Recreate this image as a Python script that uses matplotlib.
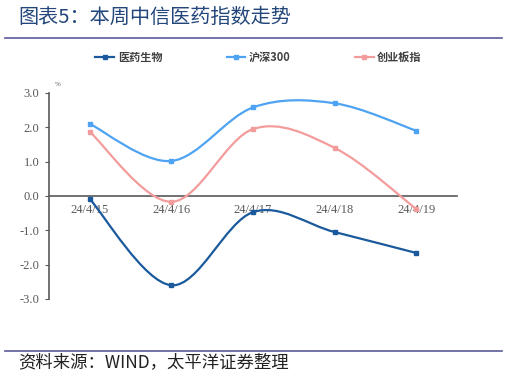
import numpy as np
import matplotlib
matplotlib.use('Agg')
import matplotlib.pyplot as plt
from matplotlib.path import Path
from matplotlib.patches import PathPatch
from matplotlib.lines import Line2D

plt.rcParams['font.family'] = ['Noto Sans CJK SC', 'DejaVu Sans']

dates = ['24/4/15', '24/4/16', '24/4/17', '24/4/18', '24/4/19']
yiyao = [-0.09, -2.60, -0.47, -1.05, -1.66]
hs300 = [2.10, 1.02, 2.58, 2.70, 1.90]
cyb = [1.87, -0.17, 1.95, 1.40, -0.38]

series = [('医药生物', yiyao, '#1a5a9c'),
          ('沪深300', hs300, '#4ea3f2'),
          ('创业板指', cyb, '#f39c9c')]


def smooth_path(x, y, t=1/6):
    # excel-like smoothed line as bezier segments
    x = np.asarray(x, float); y = np.asarray(y, float)
    verts = [(x[0], y[0])]
    codes = [Path.MOVETO]
    n = len(x)
    for i in range(n - 1):
        i0 = max(i - 1, 0); i3 = min(i + 2, n - 1)
        c1 = (x[i] + (x[i + 1] - x[i0]) * t, y[i] + (y[i + 1] - y[i0]) * t)
        c2 = (x[i + 1] - (x[i3] - x[i]) * t, y[i + 1] - (y[i3] - y[i]) * t)
        verts += [c1, c2, (x[i + 1], y[i + 1])]
        codes += [Path.CURVE4] * 3
    return Path(verts, codes)


fig = plt.figure(figsize=(5.07, 3.78), dpi=100)
ax = fig.add_axes([0.0966, 0.209, 0.805, 0.545])
ax.spines['bottom'].set_position(('data', 0))

xs = np.arange(len(dates))
for name, vals, col in series:
    ax.add_patch(PathPatch(smooth_path(xs, vals), facecolor='none', edgecolor=col, lw=1.6, zorder=3))
    ax.plot(xs, vals, ls='none', marker='s', ms=3.5, color=col, zorder=4)

ax.set_xlim(-0.5, 4.5)
ax.set_ylim(-3, 3)
ax.set_yticks([-3, -2, -1, 0, 1, 2, 3])
ax.set_yticklabels(['%.1f' % v for v in [-3, -2, -1, 0, 1, 2, 3]])
ax.set_xticks(xs)
ax.set_xticklabels(dates)
ax.tick_params(labelfontfamily='Liberation Serif', labelsize=9, labelcolor='#595959')
ax.spines['top'].set_visible(False)
ax.spines['right'].set_visible(False)
ax.spines['bottom'].set_color('#595959')
ax.spines['left'].set_color('#595959')
ax.spines['bottom'].set_linewidth(1.2)
ax.spines['left'].set_linewidth(1.2)
ax.tick_params(axis='x', length=0, pad=6)
ax.tick_params(axis='y', length=3, color='#595959', pad=4)
ax.patch.set_alpha(0)

fig.text(0.108, 0.772, '%', fontsize=5, color='#595959', family='Liberation Serif')

handles = [Line2D([], [], color=c, lw=1.6, marker='s', ms=2.5) for _, _, c in series]
fig.legend(handles, [s[0] for s in series], loc='center', bbox_to_anchor=(0.51, 0.848),
           ncol=3, frameon=False, handlelength=1.7, columnspacing=5.8,
           handletextpad=0.3, prop={'size': 8, 'weight': 'bold'}, labelcolor='#404040')

fig.text(0.036, 0.955, '图表5：本周中信医药指数走势', fontsize=14.5, color='#23477a', va='center')
fig.add_artist(Line2D([0.01, 0.99], [0.899, 0.899], color='#5b5b9a', lw=1.2))
fig.add_artist(Line2D([0.01, 0.99], [0.071, 0.071], color='#5b5b9a', lw=1.2))
fig.text(0.036, 0.042, '资料来源：WIND，太平洋证券整理', fontsize=12.5, color='#222222',
         va='center')

fig.savefig('out.png', dpi=100)
